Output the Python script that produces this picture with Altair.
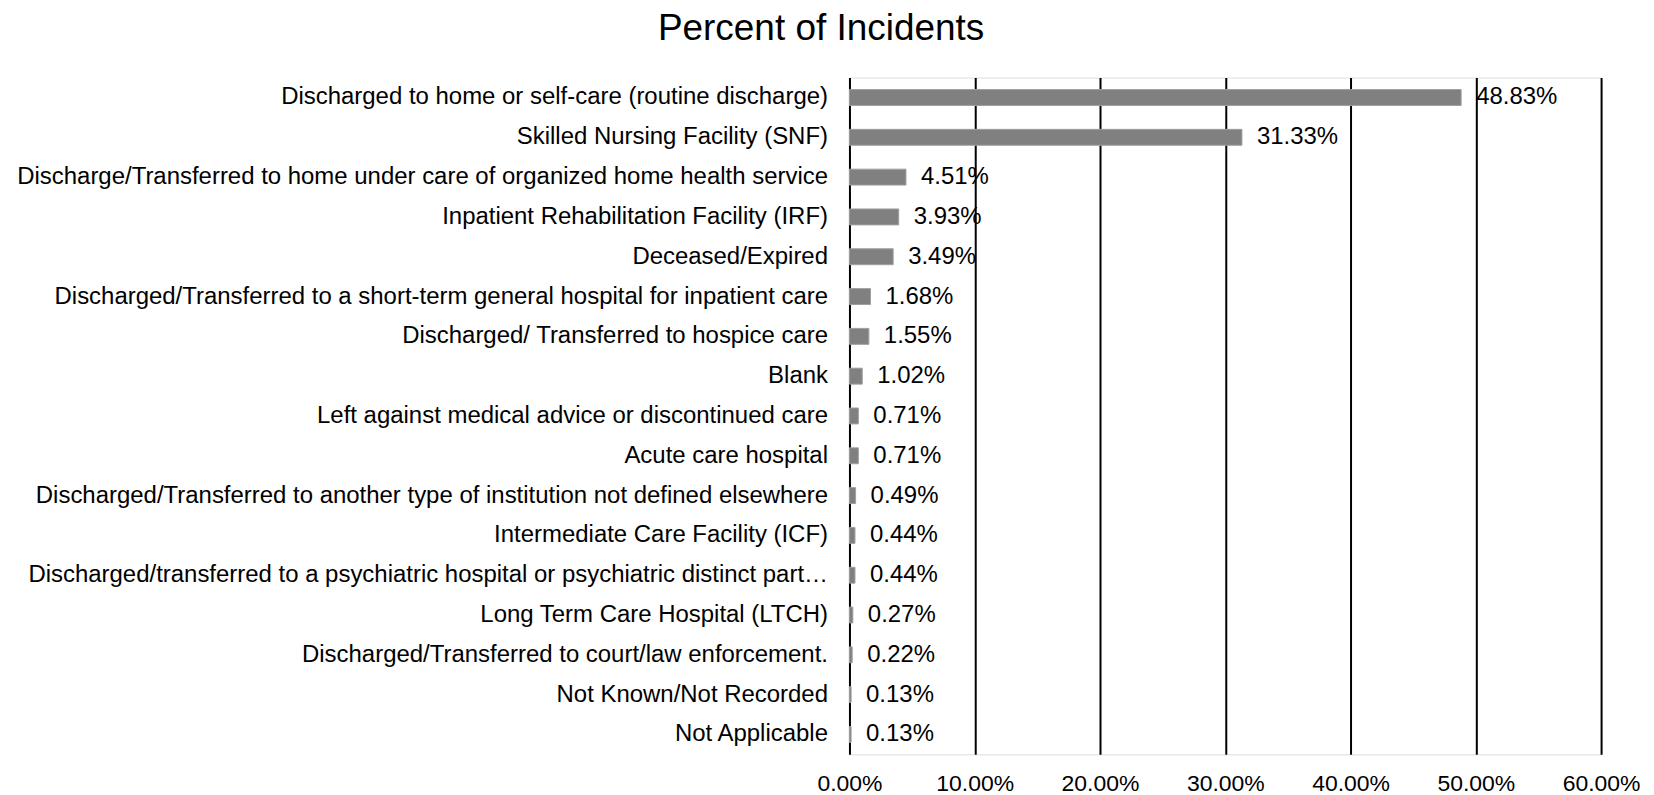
import altair as alt
import pandas as pd

categories = [
    "Discharged to home or self-care (routine discharge)",
    "Skilled Nursing Facility (SNF)",
    "Discharge/Transferred to home under care of organized home health service",
    "Inpatient Rehabilitation Facility (IRF)",
    "Deceased/Expired",
    "Discharged/Transferred to a short-term general hospital for inpatient care",
    "Discharged/ Transferred to hospice care",
    "Blank",
    "Left against medical advice or discontinued care",
    "Acute care hospital",
    "Discharged/Transferred to another type of institution not defined elsewhere",
    "Intermediate Care Facility (ICF)",
    "Discharged/transferred to a psychiatric hospital or psychiatric distinct part\u2026",
    "Long Term Care Hospital (LTCH)",
    "Discharged/Transferred to court/law enforcement.",
    "Not Known/Not Recorded",
    "Not Applicable",
]
percents = [48.83, 31.33, 4.51, 3.93, 3.49, 1.68, 1.55, 1.02, 0.71, 0.71,
            0.49, 0.44, 0.44, 0.27, 0.22, 0.13, 0.13]
tick_values = [0.0, 0.1, 0.2, 0.3, 0.4, 0.5, 0.6]

df = pd.DataFrame({
    "category": categories,
    "value": [p / 100 for p in percents],
    "label": [f"{p:.2f}%" for p in percents],
})

FONT = "Liberation Sans"

y_enc = alt.Y(
    "category:N",
    sort=categories,
    title=None,
    scale=alt.Scale(paddingInner=0.6, paddingOuter=0.3),
    axis=alt.Axis(
        labelFont=FONT, labelFontSize=24, labelColor="black",
        labelPadding=22, labelLimit=1000, ticks=False, domain=False, grid=False,
    ),
)

x_enc = alt.X(
    "value:Q",
    title=None,
    scale=alt.Scale(domain=[0, 0.6], nice=False),
    axis=alt.Axis(
        values=tick_values, format=".2%", grid=True, gridColor="black",
        gridWidth=2, gridOpacity=1, domain=False, ticks=False,
        labelFont=FONT, labelFontSize=23, labelColor="black", labelPadding=18,
        labelFlush=False,
    ),
)

base = alt.Chart(df).encode(x=x_enc, y=y_enc)

bars = base.mark_bar(color="#808080", stroke="#a0a0a0", strokeWidth=1)

texts = base.mark_text(
    align="left", baseline="middle", dx=15, font=FONT, fontSize=24, color="black"
).encode(text="label:N")

chart = (
    alt.layer(bars, texts)
    .properties(
        width=753,
        height=678,
        title=alt.TitleParams(
            "Percent of Incidents", font=FONT, fontSize=37, fontWeight="normal",
            color="black", anchor="middle", frame="bounds", offset=30, dx=-7,
        ),
        autosize=alt.AutoSizeParams(type="none"),
        padding={"left": 843, "top": 69, "right": 45, "bottom": 40},
    )
    .configure_view(strokeWidth=0, stroke="transparent", strokeOpacity=0)
    .configure_axis(domain=False, domainOpacity=0, tickOpacity=0)
    .configure(background="white")
)

chart.save("out.html", embed_options={"renderer": "svg", "actions": False})
